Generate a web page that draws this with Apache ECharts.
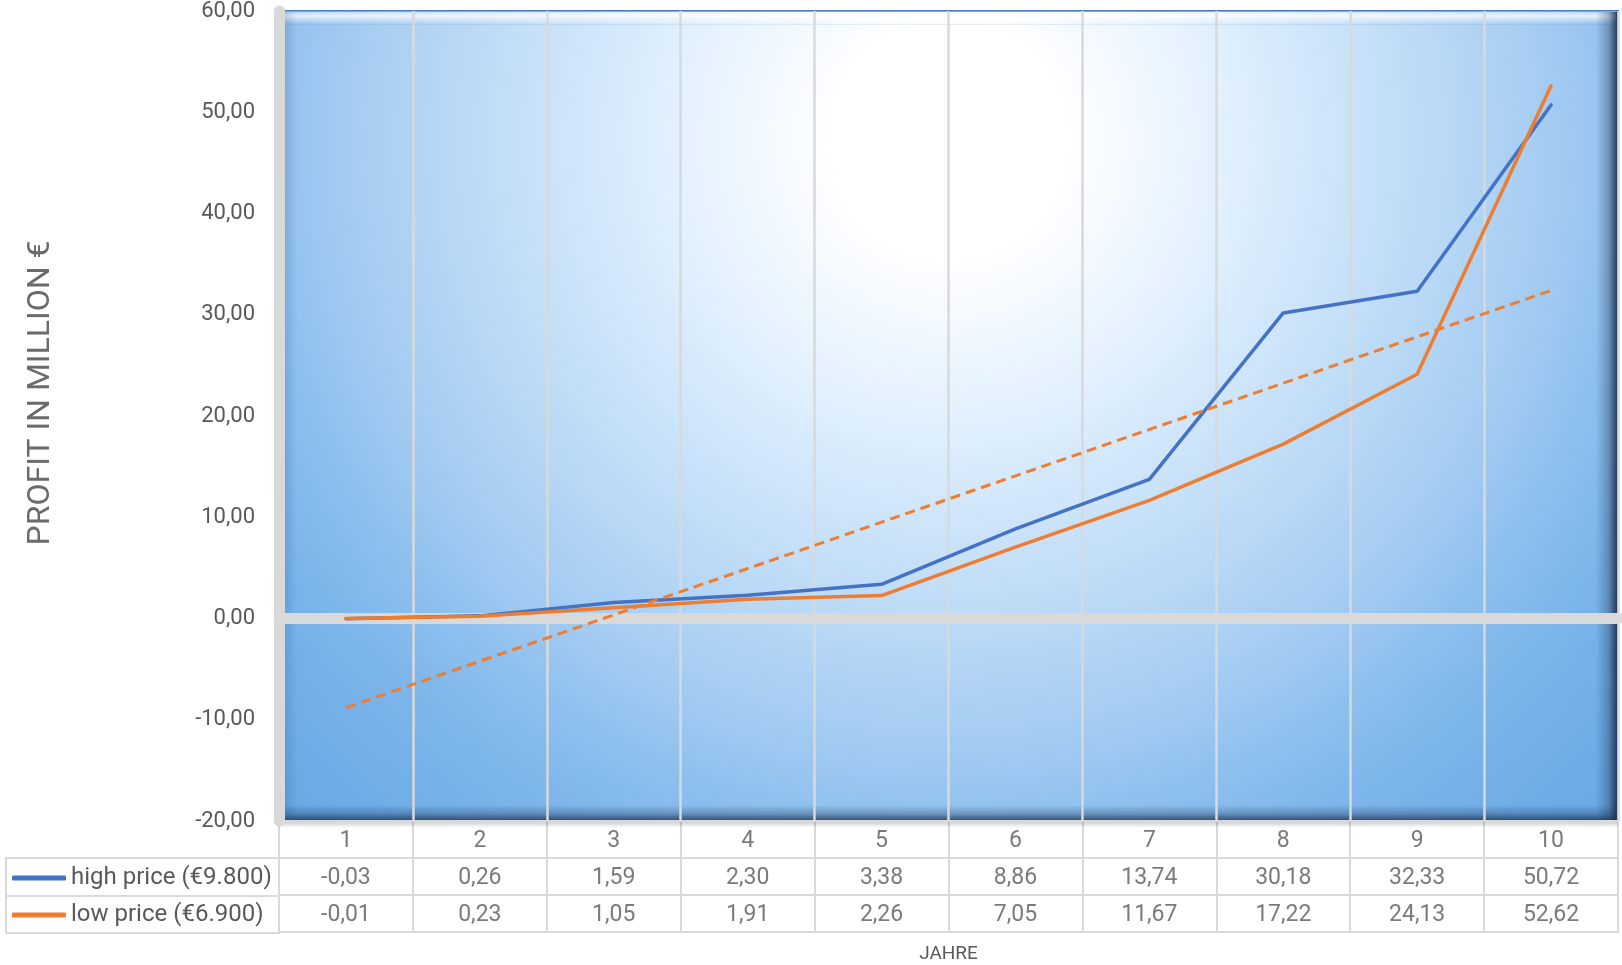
<!DOCTYPE html>
<html>
<head>
<meta charset="utf-8">
<script src="https://cdn.jsdelivr.net/npm/echarts@6/dist/echarts.min.js"></script>
<style>
html,body{margin:0;padding:0;background:#fff;}
#chart{width:1622px;height:965px;}
</style>
</head>
<body>
<div id="chart"></div>
<script>
const years = ['1','2','3','4','5','6','7','8','9','10'];
const highName = 'high price (€9.800)';
const lowName = 'low price (€6.900)';
const highPrice = [-0.03, 0.26, 1.59, 2.30, 3.38, 8.86, 13.74, 30.18, 32.33, 50.72];
const lowPrice = [-0.01, 0.23, 1.05, 1.91, 2.26, 7.05, 11.67, 17.22, 24.13, 52.62];
// linear trend line of low price, endpoints
const lowTrend = [-8.8, null, null, null, null, null, null, null, null, 32.4];
const yMin = -20, yMax = 60, yStep = 10;
const tableRows = ['header', 'high', 'low'];
const yAxisName = 'PROFIT IN MILLION €';
const xAxisName = 'JAHRE';

const fmt = v => v.toFixed(2).replace('.', ',');
const FONT = 'Roboto';
const TXT = '#595959';
const GRIDC = '#d9d9d9';

const tableData = [];
years.forEach((y, i) => {
  tableData.push([i, 0, y]);
  tableData.push([i, 1, fmt(highPrice[i])]);
  tableData.push([i, 2, fmt(lowPrice[i])]);
});

const chart = echarts.init(document.getElementById('chart'));
chart.setOption({
  animation: false,
  textStyle: {fontFamily: FONT},
  grid: [
    {left: 279, right: 4, top: 10, height: 811, show: true,
     backgroundColor: {type: 'radial', x: 948, y: 140, r: 940, global: true,
       colorStops: [
         {offset: 0, color: '#ffffff'},
         {offset: 0.12, color: '#ffffff'},
         {offset: 0.27, color: '#e6f3fe'},
         {offset: 0.55, color: '#b5d6f5'},
         {offset: 0.67, color: '#9ec8f1'},
         {offset: 0.73, color: '#8ec0ee'},
         {offset: 0.835, color: '#7ab4ea'},
         {offset: 0.975, color: '#6aaae6'},
         {offset: 1, color: '#68a8e5'}
       ]},
     borderColor: '#4a7fd0', borderWidth: 2},
    {left: 279, right: 4, top: 821, height: 112, show: true,
     backgroundColor: 'transparent', borderColor: GRIDC, borderWidth: 2}
  ],
  xAxis: [
    {type: 'category', data: years, gridIndex: 0, boundaryGap: true, z: 1.5,
     axisLine: {onZero: true, lineStyle: {color: GRIDC, width: 11}},
     axisTick: {show: false}, axisLabel: {show: false},
     splitLine: {show: true, lineStyle: {color: GRIDC, width: 2.5}}},
    {type: 'category', data: years, gridIndex: 1, boundaryGap: true,
     axisLine: {show: false}, axisTick: {show: false}, axisLabel: {show: false},
     splitLine: {show: true, lineStyle: {color: GRIDC, width: 2}},
     name: xAxisName, nameLocation: 'middle', nameGap: 13,
     nameTextStyle: {fontSize: 19, color: TXT, fontFamily: FONT}}
  ],
  yAxis: [
    {type: 'value', gridIndex: 0, min: yMin, max: yMax, interval: yStep, z: 1.5,
     axisLine: {show: true, lineStyle: {color: GRIDC, width: 11}},
     axisTick: {show: false},
     axisLabel: {formatter: v => fmt(v), fontSize: 22, color: TXT, margin: 24, fontFamily: FONT},
     splitLine: {show: false}},
    {type: 'category', gridIndex: 1, data: tableRows, inverse: true,
     axisLine: {show: false}, axisTick: {show: false}, axisLabel: {show: false},
     splitLine: {show: true, lineStyle: {color: GRIDC, width: 2}}}
  ],
  legend: {
    orient: 'vertical', left: 12, top: 865, itemGap: 11, padding: 0,
    itemWidth: 54, itemHeight: 5, icon: 'roundRect', selectedMode: false,
    data: [highName, lowName],
    textStyle: {fontSize: 24, color: TXT, lineHeight: 26, fontFamily: FONT}
  },
  series: [
    {name: highName, type: 'line', xAxisIndex: 0, yAxisIndex: 0, data: highPrice, z: 2,
     symbol: 'none', lineStyle: {color: '#4472c4', width: 3.5, cap: 'round', join: 'round'},
     itemStyle: {color: '#4472c4'}},
    {name: lowName, type: 'line', xAxisIndex: 0, yAxisIndex: 0, data: lowPrice, z: 2,
     symbol: 'none', lineStyle: {color: '#ed7d31', width: 3.5, cap: 'round', join: 'round'},
     itemStyle: {color: '#ed7d31'}},
    {name: 'trend', type: 'line', xAxisIndex: 0, yAxisIndex: 0, data: lowTrend, z: 2,
     connectNulls: true, symbol: 'none',
     lineStyle: {color: '#ed7d31', width: 3, type: [10, 6]}},
    {name: 'table', type: 'scatter', xAxisIndex: 1, yAxisIndex: 1, data: tableData,
     symbolSize: 1, itemStyle: {color: 'transparent'}, silent: true,
     label: {show: true, position: 'inside', formatter: p => p.data[2], offset: [0, 2],
       fontSize: 23, color: TXT, fontFamily: FONT}}
  ],
  graphic: [
    {type: 'rect', z: 1, silent: true, shape: {x: 285, y: 11, width: 1331, height: 14},
     style: {fill: {type: 'linear', x: 0, y: 0, x2: 0, y2: 1, colorStops: [
       {offset: 0, color: 'rgba(255,255,255,0.25)'},
       {offset: 0.35, color: 'rgba(255,255,255,0.75)'},
       {offset: 0.85, color: 'rgba(255,255,255,0.1)'},
       {offset: 1, color: 'rgba(40,90,160,0.15)'}]}}},
    {type: 'rect', z: 1, silent: true, shape: {x: 1596, y: 12, width: 21, height: 808},
     style: {fill: {type: 'linear', x: 0, y: 0, x2: 1, y2: 0, colorStops: [
       {offset: 0, color: 'rgba(20,40,70,0)'},
       {offset: 0.6, color: 'rgba(20,40,70,0.3)'},
       {offset: 1, color: 'rgba(20,40,70,0.85)'}]}}},
    {type: 'rect', z: 1, silent: true, shape: {x: 285, y: 805, width: 1331, height: 15},
     style: {fill: {type: 'linear', x: 0, y: 0, x2: 0, y2: 1, colorStops: [
       {offset: 0, color: 'rgba(20,40,70,0)'},
       {offset: 0.6, color: 'rgba(20,40,70,0.3)'},
       {offset: 1, color: 'rgba(20,40,70,0.7)'}]}}},
    {type: 'rect', z: 1, silent: true, shape: {x: 285, y: 12, width: 12, height: 808},
     style: {fill: {type: 'linear', x: 0, y: 0, x2: 1, y2: 0, colorStops: [
       {offset: 0, color: 'rgba(30,70,140,0.18)'},
       {offset: 1, color: 'rgba(30,70,140,0)'}]}}},
    {type: 'rect', z: 1, silent: true, shape: {x: 279, y: 822, width: 1339, height: 6},
     style: {fill: {type: 'linear', x: 0, y: 0, x2: 0, y2: 1, colorStops: [
       {offset: 0, color: 'rgba(0,0,0,0.18)'},
       {offset: 1, color: 'rgba(0,0,0,0)'}]}}},
    {type: 'rect', z: 1, silent: true, shape: {x: 6, y: 858, width: 273, height: 75},
     style: {fill: 'transparent', stroke: GRIDC, lineWidth: 2}},
    {type: 'line', z: 1, silent: true, shape: {x1: 6, y1: 896, x2: 279, y2: 896},
     style: {stroke: GRIDC, lineWidth: 2}},
    {type: 'text', z: 1, silent: true, x: 41, y: 393, rotation: Math.PI / 2,
     style: {text: yAxisName, align: 'center', verticalAlign: 'middle',
       fontSize: 32, fontFamily: FONT, fill: '#6b6b6b'}}
  ]
});
</script>
</body>
</html>
